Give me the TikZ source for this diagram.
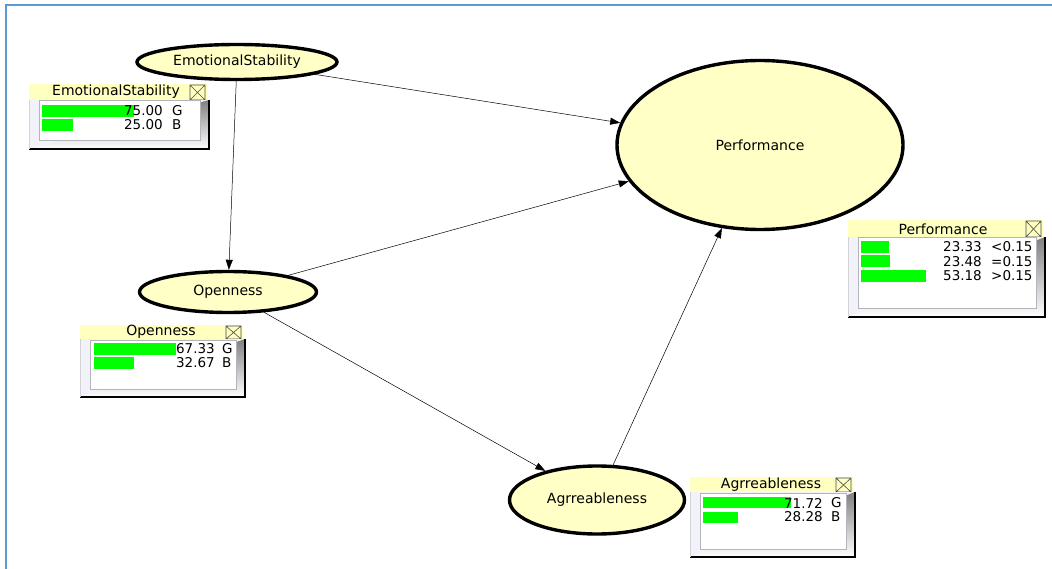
\documentclass[tikz,border=0pt]{standalone}
\usepackage{fontspec}
\setmainfont{DejaVu Sans}
\usetikzlibrary{shapes.geometric,arrows.meta}
\definecolor{nodefill}{HTML}{FFFFC6}
\definecolor{headfill}{HTML}{FFFFC0}
\definecolor{barfill}{HTML}{00FF00}
\definecolor{frameblue}{HTML}{5B9BD5}
\definecolor{bodyfill}{HTML}{F2F3FA}
\definecolor{shade}{HTML}{B4B4BC}
\begin{document}
\begin{tikzpicture}[x=1pt, y=-1pt,
        var/.style={ellipse, draw, line width=3.4pt, fill=nodefill, inner sep=0pt,
            font=\fontsize{14}{16}\selectfont},
        link/.style={draw, line width=0.5pt, -{Triangle[length=10pt, width=7pt]}},
        montitle/.style={inner sep=0pt, font=\fontsize{14}{16}\selectfont},
        montext/.style={inner sep=0pt, font=\fontsize{13.5}{15}\selectfont},
        bar/.style={fill=barfill}
    ]
    \useasboundingbox (0,0) rectangle (1052,569);
    \draw[frameblue, line width=2pt] (6,569) -- (6,5) -- (1052,5);

    % nodes
    \node[var, minimum width=200pt, minimum height=35pt] (es) at (237,62) {EmotionalStability};
    \node[var, minimum width=286pt, minimum height=169pt] (perf) at (760,145) {Performance};
    \node[var, minimum width=177pt, minimum height=41pt] (open) at (228,292) {Openness};
    \node[var, minimum width=175pt, minimum height=68pt] (agree) at (597,500) {Agrreableness};

    \draw[link] (es) -- (perf);
    \draw[link] (es) -- (open);
    \draw[link] (open) -- (perf);
    \draw[link] (open) -- (agree);
    \draw[link] (agree) -- (perf);

    % monitor windows
    \foreach \l/\t/\r/\h/\b in {29/84/207/100/149, 80/325/243/339/397,
                               848/220/1043/237/317, 690/477/853/492/557} {
        \fill[headfill] (\l,\t) rectangle (\r,\h);
        \draw[line width=0.6pt, black!70] (\r-17,\t+1) rectangle (\r-2,\h)
            (\r-17,\t+1) -- (\r-2,\h) (\r-17,\h) -- (\r-2,\t+1);
        \fill[bodyfill] (\l,\h) rectangle (\r+2,\b);
        \draw[shade, line width=1.5pt] (\l,\b) -- (\r+2,\b) -- (\r+2,\h);
        \draw[shade!60, line width=0.6pt] (\l,\b) -- (\l,\h);
        \filldraw[fill=white, draw=shade, line width=1pt] (\l+10,\h+1) rectangle (\r-7,\b-8);
    }

    \node[montitle] (es-title) at (116,92) {EmotionalStability};
    \node[montitle] (open-title) at (161,332) {Openness};
    \node[montitle] (perf-title) at (943,229) {Performance};
    \node[montitle] (agree-title) at (771,485) {Agrreableness};

    \foreach \v [count=\i] in {75.00,25.00}
        \fill[bar] (42,{105+14*(\i-1)}) rectangle ++({1.22*\v},12);
    \foreach \v [count=\i] in {67.33,32.67}
        \fill[bar] (94,{343+14*(\i-1)}) rectangle ++({1.22*\v},11.5);
    \foreach \v [count=\i] in {23.33,23.48,53.18}
        \fill[bar] (861,{241+14.5*(\i-1)}) rectangle ++({1.22*\v},12);
    \foreach \v [count=\i] in {71.72,28.28}
        \fill[bar] (703,{497+14.5*(\i-1)}) rectangle ++({1.22*\v},11);

    \node[montext, anchor=east] (es-g) at (163,111) {75.00};
    \node[montext, anchor=west] (es-gs) at (172,111) {G};
    \node[montext, anchor=east] (es-b) at (163,125) {25.00};
    \node[montext, anchor=west] (es-bs) at (172,125) {B};

    \node[montext, anchor=east] (open-g) at (215,349) {67.33};
    \node[montext, anchor=west] (open-gs) at (222,349) {G};
    \node[montext, anchor=east] (open-b) at (215,363) {32.67};
    \node[montext, anchor=west] (open-bs) at (222,363) {B};

    \node[montext, anchor=east] (perf-lo) at (982,247) {23.33};
    \node[montext, anchor=west] (perf-los) at (991,247) {<0.15};
    \node[montext, anchor=east] (perf-eq) at (982,261.5) {23.48};
    \node[montext, anchor=west] (perf-eqs) at (991,261.5) {=0.15};
    \node[montext, anchor=east] (perf-hi) at (982,276) {53.18};
    \node[montext, anchor=west] (perf-his) at (991,276) {>0.15};

    \node[montext, anchor=east] (agree-g) at (823,503) {71.72};
    \node[montext, anchor=west] (agree-gs) at (831,503) {G};
    \node[montext, anchor=east] (agree-b) at (823,517) {28.28};
    \node[montext, anchor=west] (agree-bs) at (831,517) {B};
\end{tikzpicture}
\end{document}
